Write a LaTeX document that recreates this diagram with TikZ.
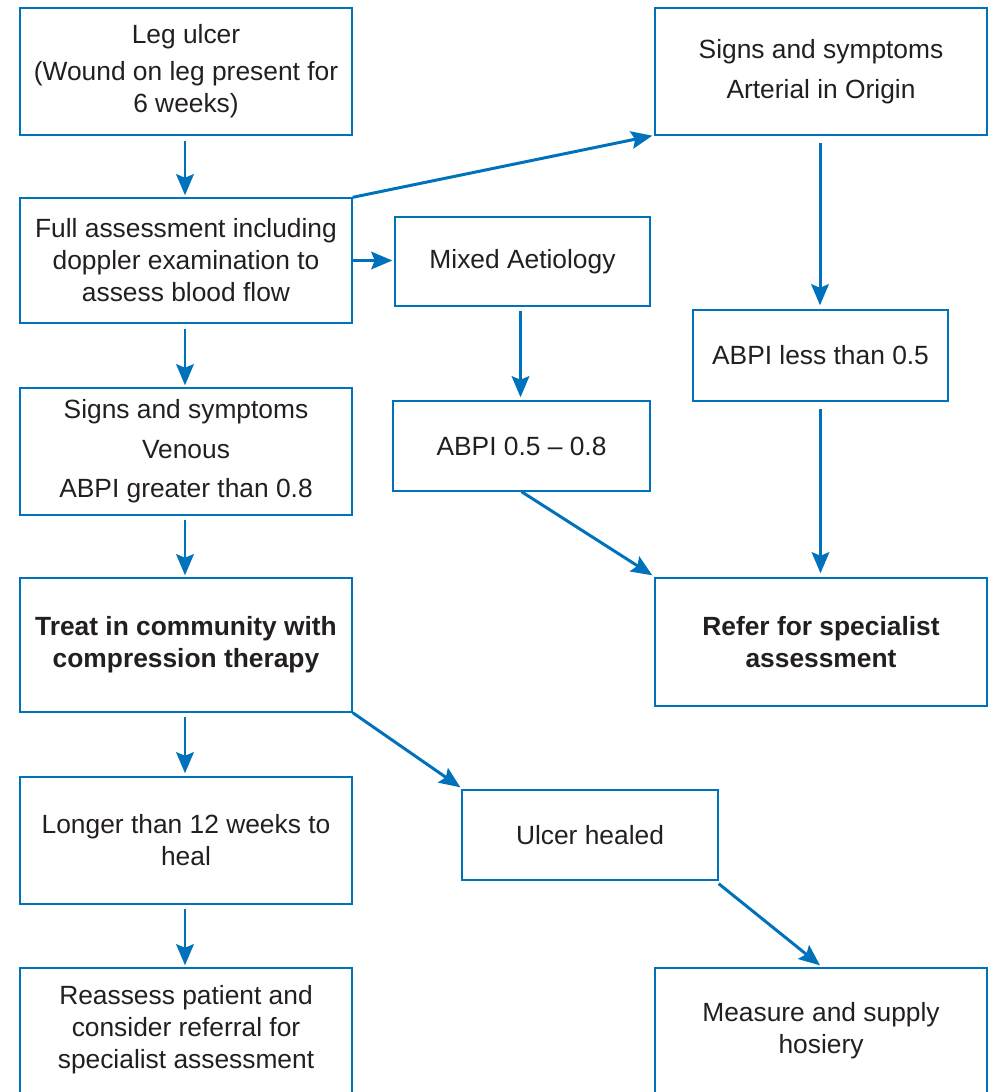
\documentclass[tikz,border=0pt]{standalone}
\usepackage{fontspec}
\setmainfont{Liberation Sans}
\usetikzlibrary{arrows.meta,calc}
\definecolor{lblue}{RGB}{0,114,188}
\definecolor{txt}{RGB}{35,31,32}
\begin{document}
\begin{tikzpicture}[x=0.02cm,y=-0.02cm,
  box/.style={draw=lblue, line width=0.8pt, text=txt, align=center,
    font=\fontsize{15}{18.2}\selectfont, inner sep=0pt},
  plain/.style={text=txt, align=center, font=\fontsize{15}{18.2}\selectfont, inner sep=0pt},
  arr/.style={draw=lblue, line width=1.7pt, -{Stealth[length=12pt,width=10pt,inset=2pt]}}]
\useasboundingbox (0,0) rectangle (993,1092);
\clip (0,0) rectangle (993,1092);
\fill[white] (0,0) rectangle (993,1092);
% left column
\node[box, minimum width=6.64cm, minimum height=2.54cm] (leg) at (186,71.5)
  {Leg ulcer\\[0.1cm] (Wound on leg present for\\ 6 weeks)};
\node[box, minimum width=6.64cm, minimum height=2.5cm] (full) at (186,260.5)
  {Full assessment including\\ doppler examination to\\ assess blood flow};
\node[box, minimum width=6.64cm, minimum height=2.54cm] (ven) at (186,451.5)
  {Signs and symptoms\\[0.15cm] Venous\\[0.15cm] ABPI greater than 0.8};
\node[box, minimum width=6.64cm, minimum height=2.68cm] (treat) at (186,645)
  {\bfseries Treat in community with\\ \bfseries compression therapy};
\node[box, minimum width=6.64cm, minimum height=2.54cm] (longer) at (186,840.5)
  {Longer than 12 weeks to\\ heal};
\node[box, minimum width=6.64cm, minimum height=2.8cm] (reassess) at (186,1038) {};
\node[plain] (reassesstxt) at (186,1030)
  {Reassess patient and\\ consider referral for\\ specialist assessment};
% middle / right
\node[box, minimum width=6.64cm, minimum height=2.54cm] (art) at (821,71.5)
  {Signs and symptoms\\[0.15cm] Arterial in Origin};
\node[box, minimum width=5.1cm, minimum height=1.78cm] (mixed) at (522.5,261.5)
  {Mixed Aetiology};
\node[box, minimum width=5.14cm, minimum height=1.8cm] (abpi58) at (521.5,446)
  {ABPI 0.5 – 0.8};
\node[box, minimum width=5.1cm, minimum height=1.82cm] (abpi5) at (820.5,355.5)
  {ABPI less than 0.5};
\node[box, minimum width=6.64cm, minimum height=2.56cm] (refer) at (821,642)
  {\bfseries Refer for specialist\\ \bfseries assessment};
\node[box, minimum width=5.12cm, minimum height=1.8cm] (healed) at (590,835)
  {Ulcer healed};
\node[box, minimum width=6.64cm, minimum height=2.8cm] (measure) at (821,1038) {};
\node[plain] (measuretxt) at (821,1031)
  {Measure and supply\\ hosiery};
% arrows
\draw[arr] ($(leg.south)+(-1,5)$) -- ($(full.north)+(-1,-2)$);
\draw[arr] (full.north east) -- ($(art.south west)+(-2,0)$);
\draw[arr] (full.east) -- ($(full.east -| mixed.west)+(-2,0)$);
\draw[arr] ($(full.south)+(-1,5)$) -- ($(ven.north)+(-1,-2)$);
\draw[arr] ($(art.south)+(-1,7)$) -- ($(abpi5.north)+(-0.5,-4)$);
\draw[arr] ($(mixed.south)+(-2,4)$) -- ($(mixed.south |- abpi58.north)+(-2,-3)$);
\draw[arr] ($(abpi5.south)+(0,7)$) -- ($(abpi5.south |- refer.north)+(0,-4)$);
\draw[arr] (abpi58.south) -- ($(refer.north west)+(-2,-2)$);
\draw[arr] ($(ven.south)+(-1,4)$) -- ($(treat.north)+(-1,-2)$);
\draw[arr] ($(treat.south)+(-1,4)$) -- ($(longer.north)+(-1,-3)$);
\draw[arr] (treat.south east) -- ($(healed.north west)+(-1,-2)$);
\draw[arr] ($(longer.south)+(-1,4)$) -- ($(reassess.north)+(-1,-2)$);
\draw[arr] ($(healed.south east)+(0,3)$) -- ($(measure.north)+(-1,-2)$);
\end{tikzpicture}
\end{document}
